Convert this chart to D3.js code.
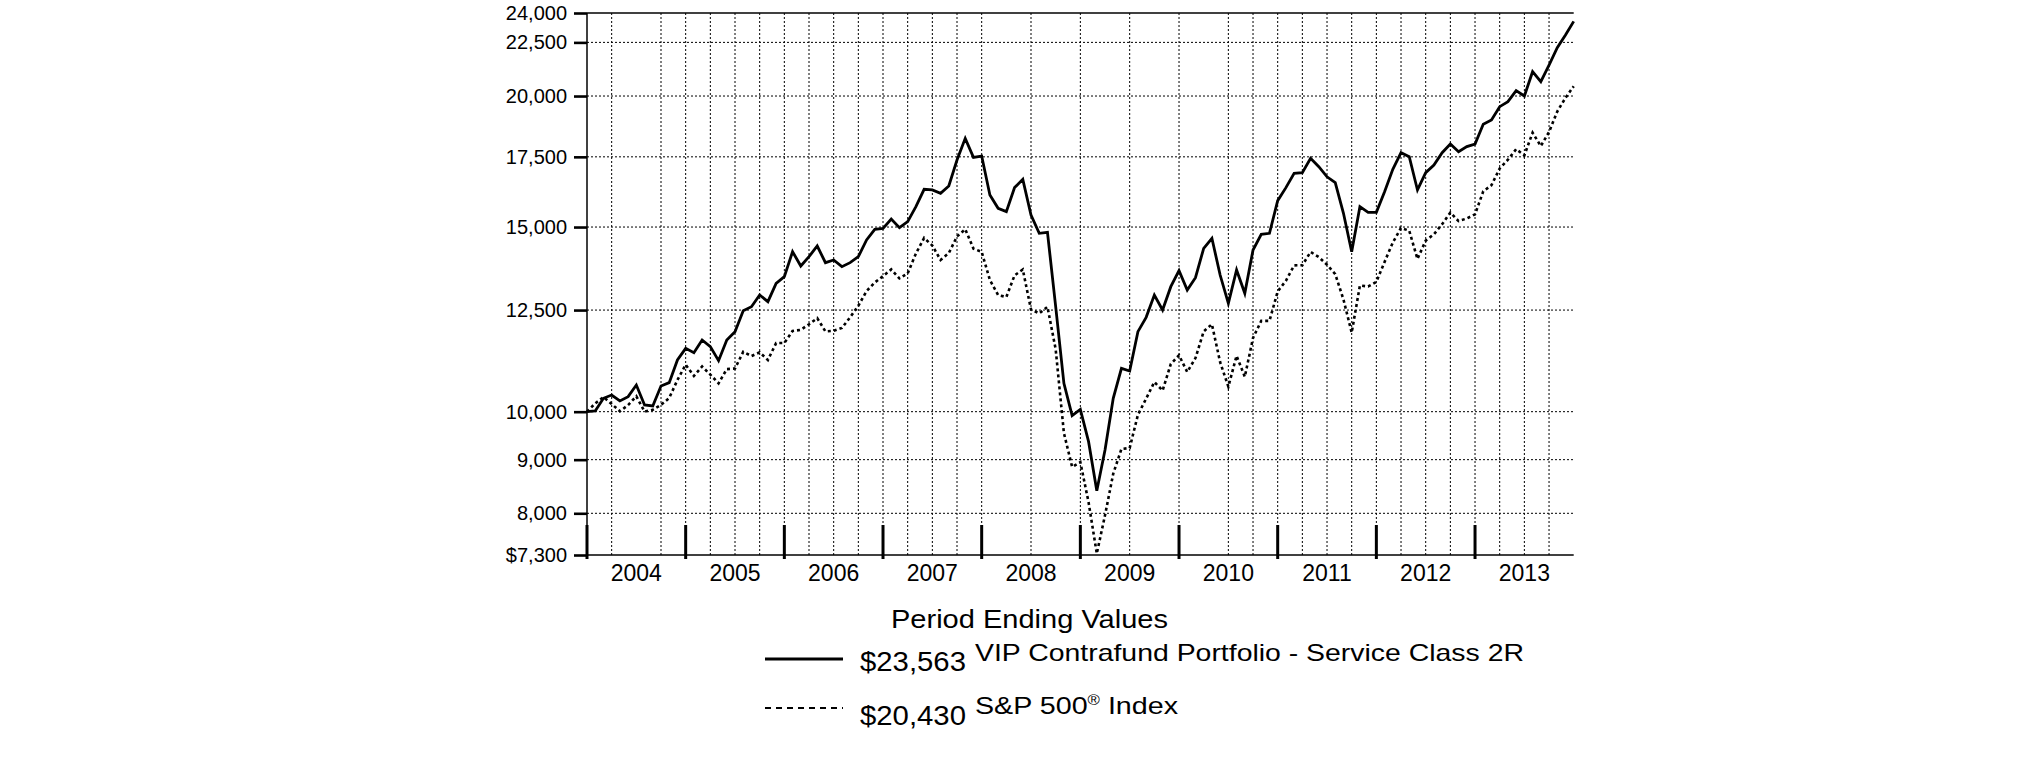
<!DOCTYPE html>
<html>
<head>
<meta charset="utf-8">
<script src="https://cdn.jsdelivr.net/npm/d3@7"></script>
<style>
  html, body { margin: 0; padding: 0; background: #fff; }
  svg { display: block; }
  text { font-family: "Liberation Sans", Arial, Helvetica, sans-serif; fill: #000; }
</style>
</head>
<body>
<svg id="chart" width="2025" height="761"></svg>
<script>
// ---- data (month-end values, Dec 2003 .. Dec 2013) ----
const startLabel = "2003-12";
const yearLabels = ["2004","2005","2006","2007","2008","2009","2010","2011","2012","2013"];

const contrafund = [
  10000, 10015, 10298, 10373, 10238, 10335, 10603, 10148, 10126, 10580, 10658, 11202, 11492,
  11384, 11705, 11535, 11185, 11705, 11921, 12483, 12593, 12920, 12733, 13256, 13451,
  14210, 13770, 14055, 14388, 13871, 13953, 13750, 13872, 14055, 14579, 14924, 14957,
  15267, 14980, 15179, 15686, 16296, 16272, 16153, 16416, 17379, 18225, 17481, 17532,
  16094, 15629, 15515, 16356, 16657, 15402, 14794, 14827, 12593, 10643, 9913, 10052,
  9363, 8407, 9193, 10298, 10999, 10934, 11921, 12302, 12920, 12502, 13159, 13630,
  13063, 13422, 14315, 14633, 13500, 12686, 13650, 12968, 14263, 14762, 14794, 15895,
  16356, 16878, 16903, 17442, 17125, 16750, 16535, 15460, 14210, 15686, 15493, 15493,
  16211, 17026, 17661, 17506, 16272, 16903, 17189, 17661, 17999, 17700, 17896, 17999,
  18795, 18974, 19538, 19754, 20237, 20000, 21098, 20641, 21409, 22240, 22867, 23563
];

const sp500 = [
  10000, 10184, 10326, 10170, 10010, 10147, 10344, 10002, 10042, 10150, 10305, 10722, 11087,
  10816, 11043, 10848, 10642, 10980, 10995, 11404, 11300, 11392, 11202, 11625, 11629,
  11937, 11969, 12117, 12280, 11926, 11943, 12017, 12303, 12620, 13032, 13279, 13465,
  13668, 13400, 13550, 14150, 14644, 14401, 13955, 14164, 14694, 14928, 14304, 14205,
  13353, 12919, 12864, 13490, 13666, 12514, 12409, 12589, 11467, 9542, 8857, 8951,
  8196, 7323, 7965, 8727, 9215, 9233, 9931, 10290, 10673, 10475, 11103, 11318,
  10910, 11249, 11927, 12116, 11148, 10565, 11306, 10796, 11759, 12206, 12207, 13022,
  13331, 13788, 13794, 14202, 14042, 13807, 13527, 12793, 11894, 13194, 13165, 13299,
  13895, 14495, 14972, 14878, 13984, 14560, 14762, 15094, 15483, 15197, 15285, 15424,
  16223, 16444, 17061, 17390, 17797, 17559, 18453, 17918, 18481, 19331, 19921, 20430
];

const yTickValues = [7300, 8000, 9000, 10000, 12500, 15000, 17500, 20000, 22500, 24000];
const yTickLabels = ["$7,300", "8,000", "9,000", "10,000", "12,500", "15,000", "17,500", "20,000", "22,500", "24,000"];
const yGridValues = [8000, 9000, 10000, 12500, 15000, 17500, 20000, 22500];
// month offsets (from Dec 2003) where vertical dotted grid lines are drawn
const xGridMonths = [3, 9, 12, 15, 18, 21, 24, 27, 30, 33, 36, 39, 42, 45, 48, 54, 60, 66, 72, 78, 81, 84, 87, 90, 93, 96, 99, 102, 105, 108, 111, 114, 117];
const yearTickMonths = [0, 12, 24, 36, 48, 60, 72, 84, 96, 108];

const legendTitle = "Period Ending Values";
const legendItems = [
  { value: "$23,563", name: ["VIP Contrafund Portfolio -  Service Class 2R"], dashed: false },
  { value: "$20,430", name: ["S&P 500", "®", " Index"], dashed: true }
];

// ---- chart ----
const svg = d3.select("#chart");
const x = d3.scaleLinear().domain([0, 120]).range([587, 1573.7]);
const y = d3.scaleLog().domain([7300, 24000]).range([555, 13]);

const grid = svg.append("g");
grid.selectAll("line.h").data(yGridValues).join("line")
  .attr("x1", x(0)).attr("x2", x(120))
  .attr("y1", d => y(d)).attr("y2", d => y(d))
  .attr("stroke", "#000").attr("stroke-width", 1).attr("stroke-dasharray", "2,2");
grid.selectAll("line.v").data(xGridMonths).join("line")
  .attr("x1", d => x(d)).attr("x2", d => x(d))
  .attr("y1", y(7300)).attr("y2", y(24000))
  .attr("stroke", "#000").attr("stroke-width", 1).attr("stroke-dasharray", "2,2");

// frame lines
svg.append("line").attr("x1", x(0)).attr("x2", x(120)).attr("y1", y(24000)).attr("y2", y(24000))
  .attr("stroke", "#000").attr("stroke-width", 1.5);
svg.append("line").attr("x1", x(0)).attr("x2", x(120)).attr("y1", y(7300)).attr("y2", y(7300))
  .attr("stroke", "#000").attr("stroke-width", 1.5);
svg.append("line").attr("x1", x(0)).attr("x2", x(0)).attr("y1", y(24000)).attr("y2", y(7300))
  .attr("stroke", "#000").attr("stroke-width", 1.5);

// y axis
const yAxis = d3.axisLeft(y).tickValues(yTickValues)
  .tickFormat((d, i) => yTickLabels[i]).tickSize(13).tickPadding(7);
const gy = svg.append("g").attr("transform", `translate(${x(0)},0)`).call(yAxis);
gy.select(".domain").remove();
gy.selectAll(".tick line").attr("stroke", "#000").attr("stroke-width", 2.6);
gy.selectAll(".tick text").attr("font-size", 20).attr("font-family", null).attr("fill", "#000");

// year ticks and labels
svg.append("g").selectAll("line").data(yearTickMonths).join("line")
  .attr("x1", d => x(d)).attr("x2", d => x(d))
  .attr("y1", 525).attr("y2", 559)
  .attr("stroke", "#000").attr("stroke-width", 3);
svg.append("g").selectAll("text").data(yearLabels).join("text")
  .attr("x", (d, i) => x(i * 12 + 6)).attr("y", 581)
  .attr("text-anchor", "middle").attr("font-size", 23)
  .text(d => d);

// series lines
const line = d3.line().x((d, i) => x(i)).y(d => y(d));
svg.append("path").datum(sp500).attr("d", line)
  .attr("fill", "none").attr("stroke", "#000").attr("stroke-width", 2.6)
  .attr("stroke-dasharray", "3,3");
svg.append("path").datum(contrafund).attr("d", line)
  .attr("fill", "none").attr("stroke", "#000").attr("stroke-width", 2.8)
  .attr("stroke-linejoin", "miter");

// legend
const lg = svg.append("g");
lg.append("text").attr("x", 891).attr("y", 628).attr("font-size", 26)
  .attr("textLength", 277).attr("lengthAdjust", "spacingAndGlyphs").text(legendTitle);
const rowY = [659, 708];
const valueY = [671, 725];
const nameY = [661, 714];
const nameLen = [549, 203];
legendItems.forEach((it, i) => {
  lg.append("line").attr("x1", 765).attr("x2", 843).attr("y1", rowY[i]).attr("y2", rowY[i])
    .attr("stroke", "#000").attr("stroke-width", it.dashed ? 2 : 3)
    .attr("stroke-dasharray", it.dashed ? "6,5" : null);
  lg.append("text").attr("x", 860).attr("y", valueY[i]).attr("font-size", 27)
    .attr("textLength", 106).attr("lengthAdjust", "spacingAndGlyphs").text(it.value);
  const t = lg.append("text").attr("x", 975).attr("y", nameY[i]).attr("font-size", 24)
    .attr("textLength", nameLen[i]).attr("lengthAdjust", "spacingAndGlyphs");
  it.name.forEach((part, j) => {
    const ts = t.append("tspan").text(part);
    if (part === "®") ts.attr("font-size", 14).attr("dy", -9);
    else if (j > 0 && it.name[j - 1] === "®") ts.attr("dy", 9);
  });
});
</script>
</body>
</html>
